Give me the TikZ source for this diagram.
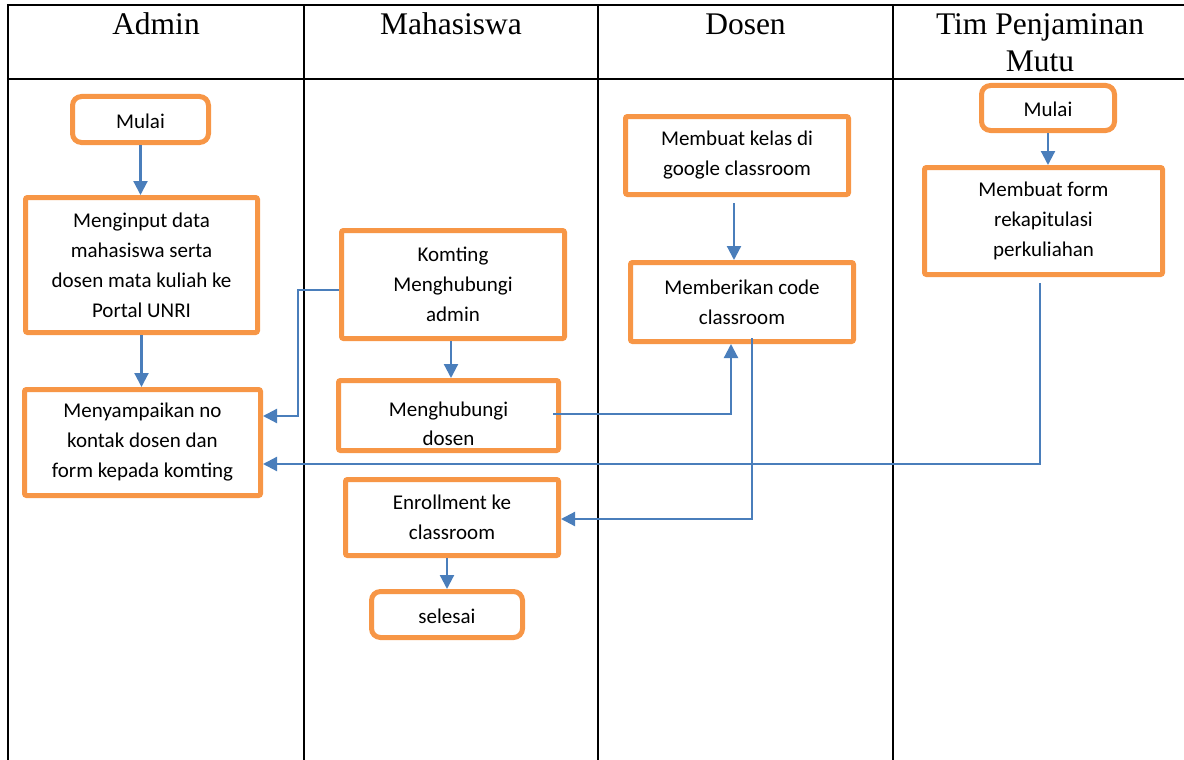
\documentclass[tikz,border=0pt]{standalone}
\usepackage{fontspec}
\setmainfont{Carlito}
\newfontfamily\hdfont{Liberation Serif}
\usetikzlibrary{arrows.meta}
\definecolor{boxorange}{HTML}{F79646}
\definecolor{arrblue}{HTML}{4A7EBB}
\begin{document}
\begin{tikzpicture}[x=1pt,y=-1pt,
  box/.style={draw=boxorange, line width=5pt, fill=white, rounded corners=2pt, align=center, inner sep=0pt, font=\fontsize{21}{30}\selectfont},
  startbox/.style={box, rounded corners=9pt, text height=18pt, text depth=0pt},
  arr/.style={draw=arrblue, line width=2.2pt, -{Triangle[length=14pt,width=14pt]}},
  gridline/.style={line width=2.5pt, black},
  head/.style={font=\hdfont\fontsize{31.5}{36}\selectfont, anchor=base, inner sep=0pt}]
\useasboundingbox (0,0) rectangle (1184,760);
% table
\draw[gridline] (6.75,5) -- (1186,5);
\draw[gridline] (6.75,79) -- (1186,79);
\draw[gridline] (8,5) -- (8,762);
\draw[gridline] (304,5) -- (304,762);
\draw[gridline] (598,5) -- (598,762);
\draw[gridline] (893,5) -- (893,762);
\node[head] (hadmin) at (156,35) {Admin};
\node[head] (hmhs) at (451,35) {Mahasiswa};
\node[head] (hdosen) at (745.5,35) {Dosen};
\node[head] (htpm) at (1040,35) {Tim Penjaminan};
\node[head] (htpm2) at (1040,71) {Mutu};
% boxes
\node[startbox, minimum width=136pt, minimum height=46pt] (am) at (140.5,119.5) {Mulai};
\node[box, minimum width=232pt, minimum height=135pt] (mi) at (141.5,265) {Menginput data\\mahasiswa serta\\dosen mata kuliah ke\\Portal UNRI};
\node[box, minimum width=236pt, minimum height=106pt] (ms) at (142.5,442.5) {Menyampaikan no\\kontak dosen dan\\form kepada komting};
\node[box, minimum width=223pt, minimum height=108pt] (kh) at (453,284.5) {Komting\\Menghubungi\\admin};
\node[box, minimum width=220pt, minimum height=70pt,
  path picture={\node[font=\fontsize{21}{29}\selectfont, align=center, inner sep=0pt] (hdt) at ([yshift=-8pt]path picture bounding box.center) {Menghubungi\\dosen};
  \fill[white] (320,442) rectangle (580,470);}] (hd) at (448.5,415.5) {};
\node[box, minimum width=213pt, minimum height=76pt] (en) at (452,517.5) {Enrollment ke\\classroom};
\node[startbox, minimum width=151pt, minimum height=46pt] (se) at (447,614.5) {selesai};
\node[box, minimum width=223pt, minimum height=78pt] (mk) at (737,155.5) {Membuat kelas di\\google classroom};
\node[box, minimum width=223pt, minimum height=79pt] (mc) at (742,302) {Memberikan code\\classroom};
\node[startbox, minimum width=133pt, minimum height=45pt] (tm) at (1048,108) {Mulai};
\node[box, minimum width=238pt, minimum height=107pt] (mf) at (1043.5,221) {Membuat form\\rekapitulasi\\perkuliahan};
% arrows
\draw[arr] (am.south) -- (am.south |- mi.north);
\draw[arr] (mi.south) -- (mi.south |- ms.north);
\draw[arr] ([yshift=-5.5pt]kh.west) -- ++(-41,0) |- ([yshift=26.5pt]ms.east);
\draw[arr] ([xshift=-2pt]kh.south) -- ([xshift=2.5pt]hd.north);
\draw[arr] ([xshift=-8pt,yshift=1.5pt]hd.east) -| ([xshift=-11pt]mc.south);
\draw[arr] ([xshift=10pt,yshift=6pt]mc.south) |- ([yshift=-1.5pt]en.east);
\draw[arr] ([xshift=-3.5pt,yshift=-6pt]mf.south) |- ([yshift=-21.5pt]ms.east);
\draw[arr] ([xshift=-5pt]en.south) -- (se.north);
\draw[arr] ([xshift=-3pt,yshift=-6pt]mk.south) -- ([xshift=-8pt]mc.north);
\draw[arr] (tm.south) -- ([xshift=4.5pt]mf.north);
\end{tikzpicture}
\end{document}
